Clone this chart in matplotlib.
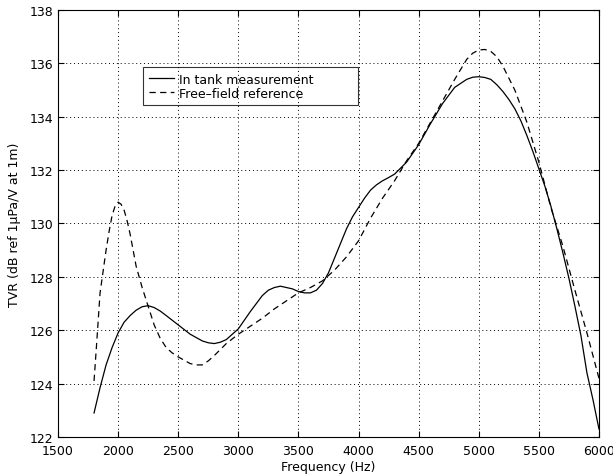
import matplotlib
matplotlib.use("Agg")
import matplotlib.pyplot as plt

plt.rcParams['font.family'] = ['DejaVu Sans']

# in-tank measurement, TVR in dB
tankFreq = [1800, 1850, 1900, 1950, 2000, 2050, 2100, 2150, 2200, 2250,
            2300, 2350, 2400, 2500, 2600, 2700, 2750, 2800, 2850, 2900,
            3000, 3100, 3200, 3250, 3300, 3350, 3400, 3450, 3500, 3550,
            3600, 3650, 3700, 3750, 3800, 3850, 3900, 3950, 4000, 4050,
            4100, 4150, 4200, 4250, 4300, 4400, 4500, 4600, 4700, 4800,
            4900, 4950, 5000, 5050, 5100, 5150, 5200, 5250, 5300, 5350,
            5400, 5450, 5500, 5550, 5600, 5650, 5700, 5750, 5800, 5850,
            5900, 5950, 6000]
tankTVR = [122.9, 123.85, 124.7, 125.35, 125.9, 126.3, 126.55, 126.75, 126.88, 126.92,
           126.85, 126.72, 126.55, 126.2, 125.85, 125.6, 125.53, 125.5, 125.55, 125.65,
           126.05, 126.7, 127.3, 127.5, 127.6, 127.65, 127.6, 127.55, 127.45, 127.4,
           127.4, 127.5, 127.75, 128.15, 128.7, 129.25, 129.8, 130.25, 130.6, 130.95,
           131.25, 131.45, 131.6, 131.72, 131.85, 132.3, 132.95, 133.75, 134.5, 135.1,
           135.4, 135.48, 135.5, 135.47, 135.4, 135.2, 134.95, 134.65, 134.3, 133.85,
           133.3, 132.7, 132.05, 131.4, 130.65, 129.8, 128.9, 127.95, 126.9, 125.8,
           124.4, 123.4, 122.3]

# free-field reference
refFreq = [1800, 1820, 1850, 1875, 1900, 1925, 1950, 1975, 2000, 2025,
           2050, 2075, 2100, 2125, 2150, 2175, 2200, 2250, 2300, 2350,
           2400, 2450, 2500, 2600, 2650, 2700, 2750, 2800, 2900, 3000,
           3100, 3200, 3300, 3400, 3500, 3600, 3700, 3800, 3900, 4000,
           4100, 4200, 4300, 4400, 4500, 4600, 4700, 4800, 4900, 4950,
           5000, 5050, 5100, 5150, 5200, 5300, 5400, 5500, 5600, 5700,
           5800, 5900, 6000]
refTVR = [124.1, 125.4, 127.4, 128.2, 129.0, 129.7, 130.3, 130.65, 130.8, 130.72,
          130.5, 130.1, 129.6, 129.0, 128.4, 128.0, 127.6, 126.9, 126.2, 125.7,
          125.35, 125.15, 125.0, 124.75, 124.7, 124.7, 124.85, 125.05, 125.5, 125.85,
          126.15, 126.45, 126.8, 127.1, 127.4, 127.6, 127.85, 128.25, 128.75, 129.35,
          130.2, 130.95, 131.6, 132.35, 133.0, 133.8, 134.6, 135.4, 136.15, 136.38,
          136.5, 136.52, 136.45, 136.25, 135.9, 135.0, 133.8, 132.3, 130.6, 129.15,
          127.5, 125.9, 124.2]

xTicks = [1500, 2000, 2500, 3000, 3500, 4000, 4500, 5000, 5500, 6000]
yTicks = [122, 124, 126, 128, 130, 132, 134, 136, 138]

fig = plt.figure(figsize=(6.13, 4.77), dpi=100)
ax = fig.add_axes([0.0946, 0.0818, 0.8825, 0.8952])

ax.plot(tankFreq, tankTVR, color='k', linewidth=0.9, label="In tank measurement")
ax.plot(refFreq, refTVR, color='k', linewidth=0.9, linestyle=(0, (5, 3.5)),
        label="Free\u2013field reference")

ax.set_xlim(1500, 6000)
ax.set_ylim(122, 138)
ax.set_xticks(xTicks)
ax.set_yticks(yTicks)
ax.tick_params(direction='in', top=True, right=True, labelsize=9, length=4,
               width=0.8)
ax.tick_params(axis='x', pad=5)
ax.tick_params(axis='y', pad=3.5)
ax.grid(True, color='k', linestyle=(0, (1, 3)), linewidth=0.7)
for s in ax.spines.values():
    s.set_linewidth(0.8)

ax.set_xlabel("Frequency (Hz)", fontsize=9, labelpad=2)
ax.set_ylabel("TVR (dB ref 1\u00b5Pa/V at 1m)", fontsize=9, labelpad=6)

# legend box runs wider than its text, so stretch it over a fixed span
leg = ax.legend(loc='upper left', bbox_to_anchor=(0.157, 0.8665, 0.3975, 0),
                mode='expand', borderaxespad=0, fontsize=9, fancybox=False,
                edgecolor='k', handlelength=2.0, handletextpad=0.45,
                borderpad=0.45, labelspacing=0.1)
leg.get_frame().set_facecolor('none')
leg.get_frame().set_linewidth(0.8)

fig.savefig("out.png", dpi=100)
